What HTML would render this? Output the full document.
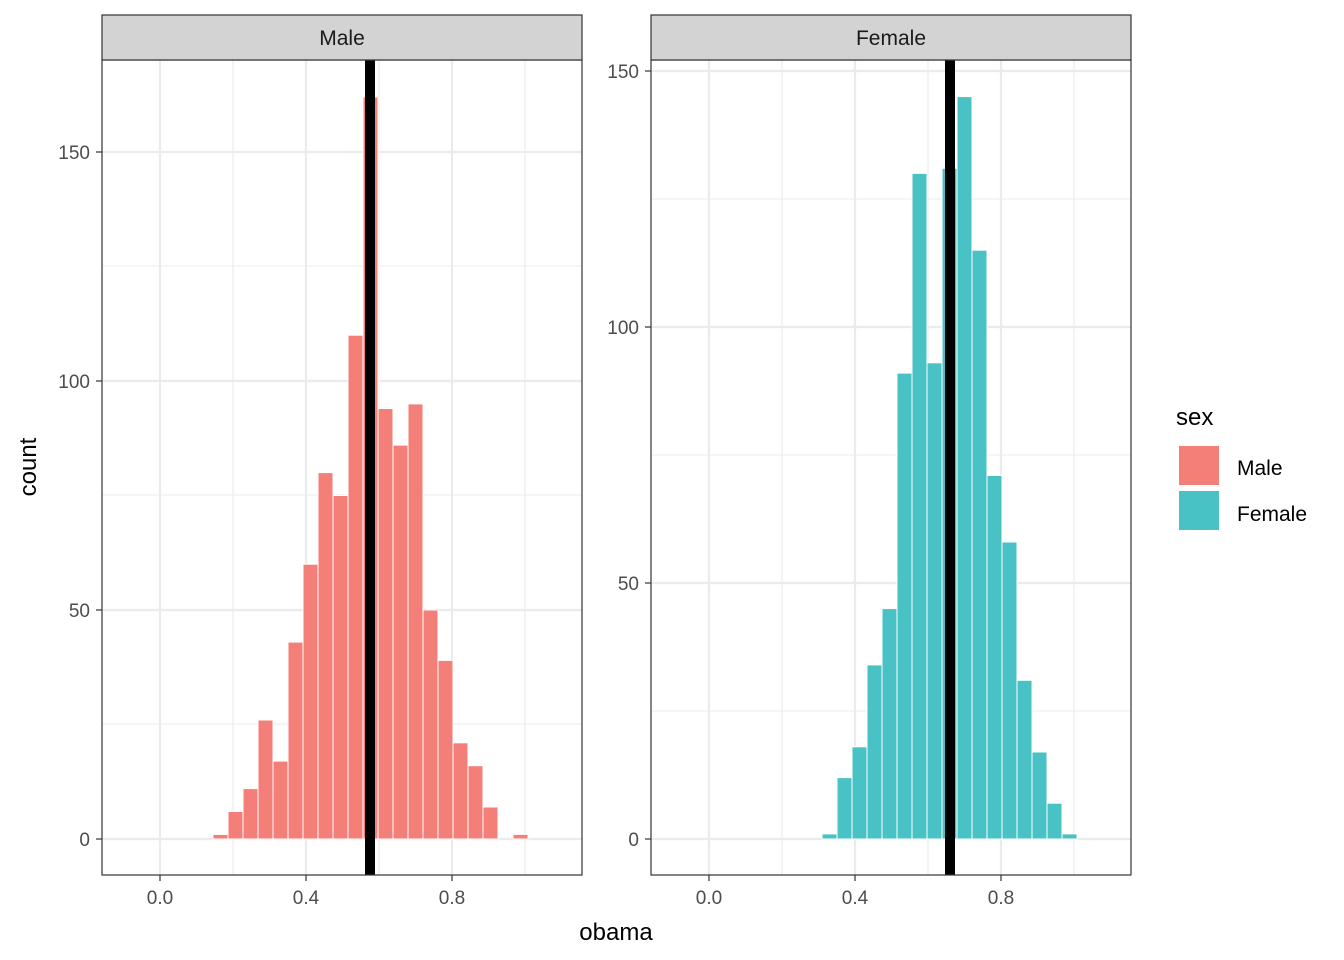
<!DOCTYPE html>
<html><head><style>body{margin:0;background:#fff}svg{display:block}text{font-family:"Liberation Sans",Arial,sans-serif}</style></head><body>
<svg width="1344" height="960" viewBox="0 0 1344 960" xmlns="http://www.w3.org/2000/svg">
<rect width="1344" height="960" fill="#fff"/>
<!-- Left panel -->
<g>
<g stroke="#ebebeb" stroke-width="1.1">
<line x1="102" x2="582" y1="724" y2="724"/><line x1="102" x2="582" y1="495" y2="495"/><line x1="102" x2="582" y1="266" y2="266"/>
<line x1="233" x2="233" y1="60" y2="875"/><line x1="379" x2="379" y1="60" y2="875"/><line x1="525" x2="525" y1="60" y2="875"/>
</g>
<g stroke="#ebebeb" stroke-width="2.2">
<line x1="102" x2="582" y1="839" y2="839"/><line x1="102" x2="582" y1="610" y2="610"/><line x1="102" x2="582" y1="381" y2="381"/><line x1="102" x2="582" y1="152" y2="152"/>
<line x1="160" x2="160" y1="60" y2="875"/><line x1="306" x2="306" y1="60" y2="875"/><line x1="452" x2="452" y1="60" y2="875"/>
</g>
<g fill="#F47E78" stroke="#fff" stroke-width="1">
<rect x="213" y="834.4" width="15" height="4.6"/>
<rect x="228" y="811.5" width="15" height="27.5"/>
<rect x="243" y="788.6" width="15" height="50.4"/>
<rect x="258" y="720" width="15" height="119"/>
<rect x="273" y="761.1" width="15" height="77.9"/>
<rect x="288" y="642.1" width="15" height="196.9"/>
<rect x="303" y="564.2" width="15" height="274.8"/>
<rect x="318" y="472.6" width="15" height="366.4"/>
<rect x="333" y="495.5" width="15" height="343.5"/>
<rect x="348" y="335.2" width="15" height="503.8"/>
<rect x="363" y="97" width="15" height="742"/>
<rect x="378" y="408.5" width="15" height="430.5"/>
<rect x="393" y="445.1" width="15" height="393.9"/>
<rect x="408" y="403.9" width="15" height="435.1"/>
<rect x="423" y="610" width="15" height="229"/>
<rect x="438" y="660.4" width="15" height="178.6"/>
<rect x="453" y="742.8" width="15" height="96.2"/>
<rect x="468" y="765.7" width="15" height="73.3"/>
<rect x="483" y="807" width="15" height="32"/>
<rect x="513" y="834.4" width="15" height="4.6"/>
</g>
<line x1="370" x2="370" y1="60" y2="875" stroke="#000" stroke-width="10"/>
<rect x="102" y="60" width="480" height="815" fill="none" stroke="#333" stroke-width="1.2"/>
<rect x="102" y="15" width="480" height="45" fill="#d3d3d3" stroke="#333" stroke-width="1.2"/>
<text x="342" y="45" font-size="21" text-anchor="middle" fill="#1a1a1a">Male</text>
<g font-size="19" fill="#4d4d4d" text-anchor="end">
<text x="90" y="846">0</text><text x="90" y="617">50</text><text x="90" y="388">100</text><text x="90" y="159">150</text>
</g>
<g stroke="#333" stroke-width="1.2"><line x1="96" x2="102" y1="839" y2="839"/><line x1="96" x2="102" y1="610" y2="610"/><line x1="96" x2="102" y1="381" y2="381"/><line x1="96" x2="102" y1="152" y2="152"/>
<line x1="160" x2="160" y1="875" y2="881"/><line x1="306" x2="306" y1="875" y2="881"/><line x1="452" x2="452" y1="875" y2="881"/></g>
<g font-size="19" fill="#4d4d4d" text-anchor="middle"><text x="160" y="904">0.0</text><text x="306" y="904">0.4</text><text x="452" y="904">0.8</text></g>
</g>
<!-- Right panel -->
<g>
<g stroke="#ebebeb" stroke-width="1.1">
<line x1="651" x2="1131" y1="711" y2="711"/><line x1="651" x2="1131" y1="455" y2="455"/><line x1="651" x2="1131" y1="199" y2="199"/>
<line x1="782" x2="782" y1="60" y2="875"/><line x1="928" x2="928" y1="60" y2="875"/><line x1="1074" x2="1074" y1="60" y2="875"/>
</g>
<g stroke="#ebebeb" stroke-width="2.2">
<line x1="651" x2="1131" y1="839" y2="839"/><line x1="651" x2="1131" y1="583" y2="583"/><line x1="651" x2="1131" y1="327" y2="327"/><line x1="651" x2="1131" y1="71" y2="71"/>
<line x1="709" x2="709" y1="60" y2="875"/><line x1="855" x2="855" y1="60" y2="875"/><line x1="1001" x2="1001" y1="60" y2="875"/>
</g>
<g fill="#49C2C5" stroke="#fff" stroke-width="1">
<rect x="822" y="833.9" width="15" height="5.1"/>
<rect x="837" y="777.6" width="15" height="61.4"/>
<rect x="852" y="746.8" width="15" height="92.2"/>
<rect x="867" y="664.9" width="15" height="174.1"/>
<rect x="882" y="608.6" width="15" height="230.4"/>
<rect x="897" y="373.1" width="15" height="465.9"/>
<rect x="912" y="173.4" width="15" height="665.6"/>
<rect x="927" y="362.8" width="15" height="476.2"/>
<rect x="942" y="168.3" width="15" height="670.7"/>
<rect x="957" y="96.6" width="15" height="742.4"/>
<rect x="972" y="250.2" width="15" height="588.8"/>
<rect x="987" y="475.5" width="15" height="363.5"/>
<rect x="1002" y="542" width="15" height="297"/>
<rect x="1017" y="680.3" width="15" height="158.7"/>
<rect x="1032" y="752" width="15" height="87"/>
<rect x="1047" y="803.2" width="15" height="35.8"/>
<rect x="1062" y="833.9" width="15" height="5.1"/>
</g>
<line x1="950" x2="950" y1="60" y2="875" stroke="#000" stroke-width="10"/>
<rect x="651" y="60" width="480" height="815" fill="none" stroke="#333" stroke-width="1.2"/>
<rect x="651" y="15" width="480" height="45" fill="#d3d3d3" stroke="#333" stroke-width="1.2"/>
<text x="891" y="45" font-size="21" text-anchor="middle" fill="#1a1a1a">Female</text>
<g font-size="19" fill="#4d4d4d" text-anchor="end">
<text x="639" y="846">0</text><text x="639" y="590">50</text><text x="639" y="334">100</text><text x="639" y="78">150</text>
</g>
<g stroke="#333" stroke-width="1.2"><line x1="645" x2="651" y1="839" y2="839"/><line x1="645" x2="651" y1="583" y2="583"/><line x1="645" x2="651" y1="327" y2="327"/><line x1="645" x2="651" y1="71" y2="71"/>
<line x1="709" x2="709" y1="875" y2="881"/><line x1="855" x2="855" y1="875" y2="881"/><line x1="1001" x2="1001" y1="875" y2="881"/></g>
<g font-size="19" fill="#4d4d4d" text-anchor="middle"><text x="709" y="904">0.0</text><text x="855" y="904">0.4</text><text x="1001" y="904">0.8</text></g>
</g>
<text x="616" y="940" font-size="24" text-anchor="middle" fill="#000">obama</text>
<text transform="translate(36,467) rotate(-90)" font-size="24" text-anchor="middle" fill="#000">count</text>
<text x="1176" y="425" font-size="24" fill="#000">sex</text>
<rect x="1179" y="446" width="40" height="39" fill="#F47E78"/>
<rect x="1179" y="491" width="40" height="39" fill="#49C2C5"/>
<text x="1237" y="475" font-size="21" fill="#000">Male</text>
<text x="1237" y="521" font-size="21" fill="#000">Female</text>
</svg>
</body></html>
